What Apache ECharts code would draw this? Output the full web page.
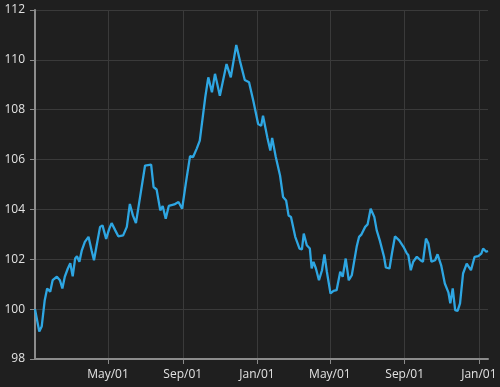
<!DOCTYPE html>
<html>
<head>
<meta charset="utf-8">
<script src="https://cdn.jsdelivr.net/npm/echarts@6/dist/echarts.min.js"></script>
<style>
  html, body { margin: 0; padding: 0; background: #1f1f1f; }
  #chart { width: 500px; height: 387px; }
</style>
</head>
<body>
<div id="chart"></div>
<script>
// days since 2001-01-01
const startDate = "2001-01-01";
const endDay = 745;
const days = [
  0, 7, 11, 16, 20, 25, 29, 36, 41, 45, 49, 54, 58, 62, 66, 69, 73, 77, 82, 88,
  93, 97, 101, 107, 111, 117, 122, 126, 132, 137, 145, 151, 156, 161, 166, 181, 191, 195, 200, 206,
  210, 215, 220, 229, 236, 242, 248, 255, 260, 266, 271, 280, 285, 291, 296, 304, 315, 322, 331, 337,
  345, 352, 359, 367, 372, 375, 382, 387, 390, 396, 403, 408, 413, 417, 421, 428, 435, 439, 442, 447,
  452, 455, 458, 462, 467, 472, 476, 480, 486, 491, 496, 502, 506, 511, 516, 521, 529, 533, 537, 543,
  547, 552, 558, 562, 567, 574, 577, 583, 587, 592, 599, 606, 611, 614, 618, 622, 628, 634, 638, 643,
  647, 652, 658, 662, 668, 674, 680, 683, 687, 691, 695, 699, 704, 710, 717, 723, 729, 734, 737, 742,
  745
];
const values = [
  100.0, 99.1, 99.3, 100.36, 100.83, 100.7, 101.16, 101.3, 101.16, 100.83,
  101.3, 101.63, 101.84, 101.32, 102.03, 102.12, 101.9, 102.36, 102.7, 102.9,
  102.36, 101.96, 102.5, 103.3, 103.36, 102.82, 103.22, 103.45, 103.16, 102.92,
  102.96, 103.3, 104.22, 103.76, 103.45, 105.76, 105.8, 104.9, 104.8, 103.96,
  104.14, 103.63, 104.14, 104.2, 104.3, 104.03, 105.04, 106.14, 106.1, 106.44,
  106.76, 108.5, 109.3, 108.7, 109.44, 108.56, 109.83, 109.3, 110.6, 109.96,
  109.19, 109.1, 108.36, 107.43, 107.36, 107.76, 106.9, 106.36, 106.87, 106.1,
  105.36, 104.5, 104.36, 103.76, 103.7, 102.9, 102.43, 102.4, 103.03, 102.56,
  102.43, 101.63, 101.9, 101.63, 101.16, 101.56, 102.2, 101.5, 100.63, 100.73,
  100.76, 101.5, 101.3, 102.03, 101.16, 101.36, 102.5, 102.9, 103.0, 103.3,
  103.4, 104.03, 103.7, 103.16, 102.76, 102.1, 101.67, 101.63, 102.23, 102.92,
  102.76, 102.5, 102.26, 102.16, 101.56, 101.9, 102.1, 101.96, 101.9, 102.83,
  102.63, 101.9, 101.96, 102.2, 101.76, 101.03, 100.66, 100.23, 100.83, 99.96,
  99.93, 100.23, 101.43, 101.83, 101.56, 102.1, 102.13, 102.23, 102.43, 102.3,
  102.33
];
const tickDates = ["2001-05-01", "2001-09-01", "2002-01-01", "2002-05-01", "2002-09-01", "2003-01-01"];
const monthNames = ["Jan", "Feb", "Mar", "Apr", "May", "Jun", "Jul", "Aug", "Sep", "Oct", "Nov", "Dec"];

const DAY = 86400000;
const t0 = Date.parse(startDate + "T00:00:00Z");
const seriesData = days.map((d, i) => [t0 + d * DAY, values[i]]);
const tickValues = tickDates.map((s) => Date.parse(s + "T00:00:00Z"));

const fmtDate = (v) => {
  const d = new Date(v);
  const dd = String(d.getUTCDate()).padStart(2, "0");
  return monthNames[d.getUTCMonth()] + "/" + dd;
};

const chart = echarts.init(document.getElementById("chart"));
const axisColor = "#8c8c8c";
const gridColor = "#3a3a3a";
const labelColor = "#e2e2e2";

chart.setOption({
  backgroundColor: "#1f1f1f",
  animation: false,
  textStyle: { fontFamily: "Open Sans" },
  grid: { left: 35, right: 12, top: 10, bottom: 28 },
  xAxis: {
    type: "value",
    min: t0,
    max: t0 + endDay * DAY,
    axisLine: { lineStyle: { color: axisColor, width: 2 } },
    axisTick: { customValues: tickValues, length: 5, lineStyle: { color: axisColor, width: 1 } },
    axisLabel: {
      customValues: tickValues,
      formatter: fmtDate,
      color: labelColor,
      fontSize: 12,
      margin: 10,
    },
    splitLine: { show: true, lineStyle: { color: gridColor, width: 1 } },
  },
  yAxis: {
    type: "value",
    min: 98,
    max: 112,
    interval: 2,
    axisLine: { show: true, lineStyle: { color: axisColor, width: 2 } },
    axisTick: { show: true, length: 5, lineStyle: { color: axisColor, width: 1 } },
    axisLabel: { color: labelColor, fontSize: 12, margin: 10 },
    splitLine: { show: true, lineStyle: { color: gridColor, width: 1 } },
  },
  series: [
    {
      type: "line",
      data: seriesData,
      showSymbol: false,
      lineStyle: { color: "#2ea6e2", width: 2.3 },
    },
  ],
});
</script>
</body>
</html>
